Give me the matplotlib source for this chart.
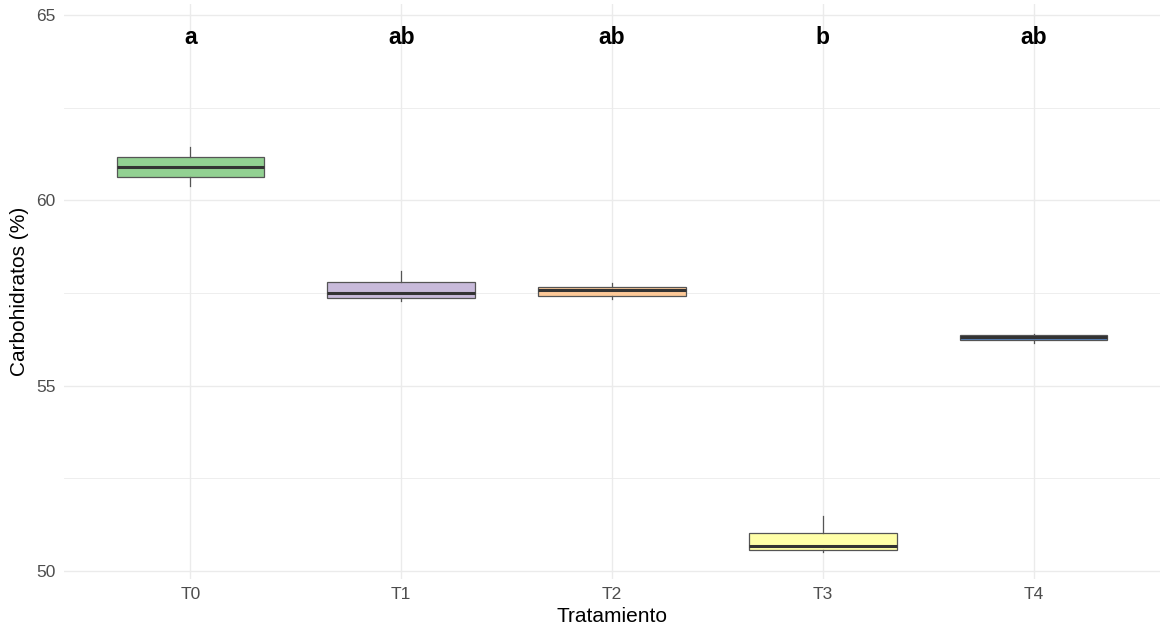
import matplotlib
matplotlib.use("Agg")
import matplotlib.pyplot as plt

# Treatments and five-number summaries of carbohydrate content (%)
tratamientos = ["T0", "T1", "T2", "T3", "T4"]
whisker_low = [60.39, 57.29, 57.33, 50.50, 56.16]
q1 = [60.63, 57.37, 57.42, 50.57, 56.22]
mediana = [60.91, 57.49, 57.58, 50.66, 56.32]
q3 = [61.18, 57.79, 57.67, 51.03, 56.36]
whisker_high = [61.45, 58.10, 57.76, 51.47, 56.39]
letras = ["a", "ab", "ab", "b", "ab"]
letra_y = 64.4
colores = ["#7FC97F", "#BEAED4", "#FDC086", "#FFFF99", "#386CB0"]

plt.rcParams["font.family"] = ["Liberation Sans", "DejaVu Sans"]

fig = plt.figure(figsize=(11.6, 6.34), dpi=100)
ax = fig.add_axes([64 / 1160, 1 - 579 / 634, 1 - 64 / 1160, (579 - 4) / 634])

stats = []
for i, t in enumerate(tratamientos):
    stats.append(dict(label=t, whislo=whisker_low[i], q1=q1[i], med=mediana[i],
                      q3=q3[i], whishi=whisker_high[i], fliers=[]))

pos = list(range(len(tratamientos)))
bp = ax.bxp(stats, positions=pos, widths=0.7, patch_artist=True, showcaps=False,
            boxprops=dict(edgecolor="#555555", linewidth=0.9),
            whiskerprops=dict(color="#555555", linewidth=0.9),
            medianprops=dict(color="#333333", linewidth=2.2),
            zorder=3)
# Semi-transparent fills blended over the white panel
for patch, c in zip(bp["boxes"], colores):
    r, g, b = matplotlib.colors.to_rgb(c)
    a = 0.85
    patch.set_facecolor((r * a + (1 - a), g * a + (1 - a), b * a + (1 - a)))

for i, l in enumerate(letras):
    ax.text(pos[i], letra_y, l, ha="center", va="center", fontsize=16.5,
            fontweight="bold", color="black", zorder=4)

ax.set_xlim(-0.6, len(tratamientos) - 0.4)
ax.set_ylim(49.78, 65.30)
ax.set_yticks([50, 55, 60, 65])
ax.set_yticks([52.5, 57.5, 62.5], minor=True)
ax.set_xticks(pos)
ax.set_xticklabels(tratamientos)

ax.grid(True, which="major", color="#EBEBEB", linewidth=1.0, zorder=0)
ax.grid(True, which="minor", axis="y", color="#EBEBEB", linewidth=0.6, zorder=0)
ax.set_axisbelow(True)
for s in ax.spines.values():
    s.set_visible(False)
ax.tick_params(axis="both", which="both", length=0, labelsize=12.5,
               labelcolor="#4D4D4D", pad=6)

ax.set_xlabel("Tratamiento", fontsize=15, color="black", labelpad=3)
ax.set_ylabel("Carbohidratos (%)", fontsize=15, color="black", labelpad=5)

fig.savefig("out.png", dpi=100)
